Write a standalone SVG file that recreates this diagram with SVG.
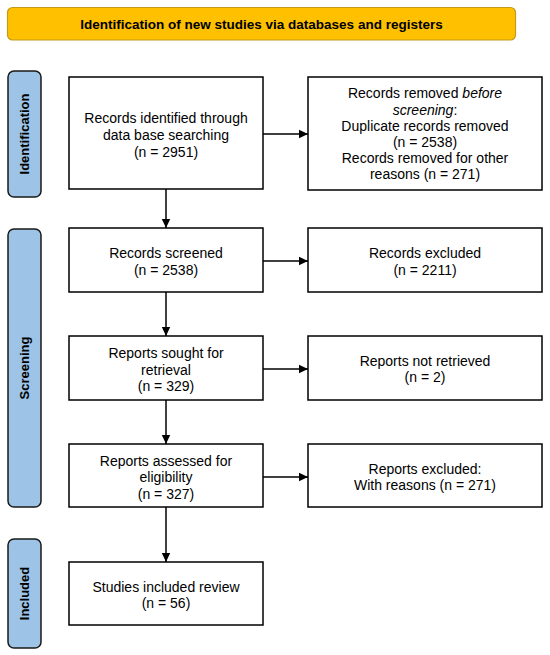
<svg xmlns="http://www.w3.org/2000/svg" width="550" height="655" viewBox="0 0 550 655">
<defs>
<marker id="ah" markerWidth="10" markerHeight="10" refX="9" refY="5" orient="auto" markerUnits="userSpaceOnUse">
<path d="M0,0.8 L9,5 L0,9.2 Z" fill="#000"/>
</marker>
<style>
.box{fill:#fff;stroke:#000;stroke-width:1.5}
.side{fill:#9DC3E6;stroke:#1a1a1a;stroke-width:1.5}
.t{font-family:"Liberation Sans",Arial,sans-serif;font-size:14px;fill:#000;text-anchor:middle}
.st{font-family:"Liberation Sans",Arial,sans-serif;font-size:13px;font-weight:bold;fill:#000;text-anchor:middle}
.c{stroke:#000;stroke-width:1.5;fill:none}
</style>
</defs>
<rect width="550" height="655" fill="#fff"/>
<g id="title">
<rect x="7.5" y="7.5" width="508" height="32.5" rx="5" fill="#FFC000" stroke="#C39A1A" stroke-width="1.2"/>
<text x="261.5" y="28.5" class="st" style="font-size:13.5px">Identification of new studies via databases and registers</text>
</g>
<g id="side-identification">
<rect x="8" y="71" width="33" height="126" rx="6" class="side"/>
<text class="st" transform="translate(29,134) rotate(-90)">Identification</text>
</g>
<g id="side-screening">
<rect x="8" y="229" width="33" height="278" rx="6" class="side"/>
<text class="st" transform="translate(29,368) rotate(-90)">Screening</text>
</g>
<g id="side-included">
<rect x="8" y="539" width="33" height="109" rx="6" class="side"/>
<text class="st" transform="translate(29,593.5) rotate(-90)">Included</text>
</g>
<g id="n-identified">
<rect x="69" y="77" width="194" height="112" class="box"/>
<text class="t" x="166" y="123">Records identified through</text>
<text class="t" x="166" y="140">data base searching</text>
<text class="t" x="166" y="156.5">(n = 2951)</text>
</g>
<g id="n-removed">
<rect x="308" y="77" width="234" height="113" class="box"/>
<text class="t" x="425" y="98">Records removed <tspan font-style="italic">before</tspan></text>
<text class="t" x="425" y="114.5"><tspan font-style="italic">screening</tspan>:</text>
<text class="t" x="425" y="131">Duplicate records removed</text>
<text class="t" x="425" y="147">(n = 2538)</text>
<text class="t" x="425" y="163">Records removed for other</text>
<text class="t" x="425" y="179">reasons (n = 271)</text>
</g>
<g id="n-screened">
<rect x="69" y="228" width="194" height="64" class="box"/>
<text class="t" x="166" y="258">Records screened</text>
<text class="t" x="166" y="275">(n = 2538)</text>
</g>
<g id="n-excluded">
<rect x="308" y="228" width="234" height="64" class="box"/>
<text class="t" x="425" y="258">Records excluded</text>
<text class="t" x="425" y="275">(n = 2211)</text>
</g>
<g id="n-sought">
<rect x="69" y="336" width="194" height="64" class="box"/>
<text class="t" x="166" y="358">Reports sought for</text>
<text class="t" x="166" y="374.5">retrieval</text>
<text class="t" x="166" y="391">(n = 329)</text>
</g>
<g id="n-notretrieved">
<rect x="308" y="336" width="234" height="64" class="box"/>
<text class="t" x="425" y="366">Reports not retrieved</text>
<text class="t" x="425" y="382">(n = 2)</text>
</g>
<g id="n-assessed">
<rect x="69" y="444" width="194" height="63" class="box"/>
<text class="t" x="166" y="465.5">Reports assessed for</text>
<text class="t" x="166" y="482">eligibility</text>
<text class="t" x="166" y="498.5">(n = 327)</text>
</g>
<g id="n-reportsexcluded">
<rect x="308" y="444" width="234" height="63" class="box"/>
<text class="t" x="425" y="474">Reports excluded:</text>
<text class="t" x="425" y="490">With reasons (n = 271)</text>
</g>
<g id="n-included">
<rect x="69" y="562" width="194" height="63" class="box"/>
<text class="t" x="166" y="592">Studies included review</text>
<text class="t" x="166" y="608">(n = 56)</text>
</g>
<g id="connectors">
<line x1="166" y1="189" x2="166" y2="228" class="c" marker-end="url(#ah)"/>
<line x1="166" y1="292" x2="166" y2="336" class="c" marker-end="url(#ah)"/>
<line x1="166" y1="400" x2="166" y2="444" class="c" marker-end="url(#ah)"/>
<line x1="166" y1="507" x2="166" y2="562" class="c" marker-end="url(#ah)"/>
<line x1="263" y1="134" x2="308" y2="134" class="c" marker-end="url(#ah)"/>
<line x1="263" y1="261" x2="308" y2="261" class="c" marker-end="url(#ah)"/>
<line x1="263" y1="369" x2="308" y2="369" class="c" marker-end="url(#ah)"/>
<line x1="263" y1="477" x2="308" y2="477" class="c" marker-end="url(#ah)"/>
</g>
</svg>
